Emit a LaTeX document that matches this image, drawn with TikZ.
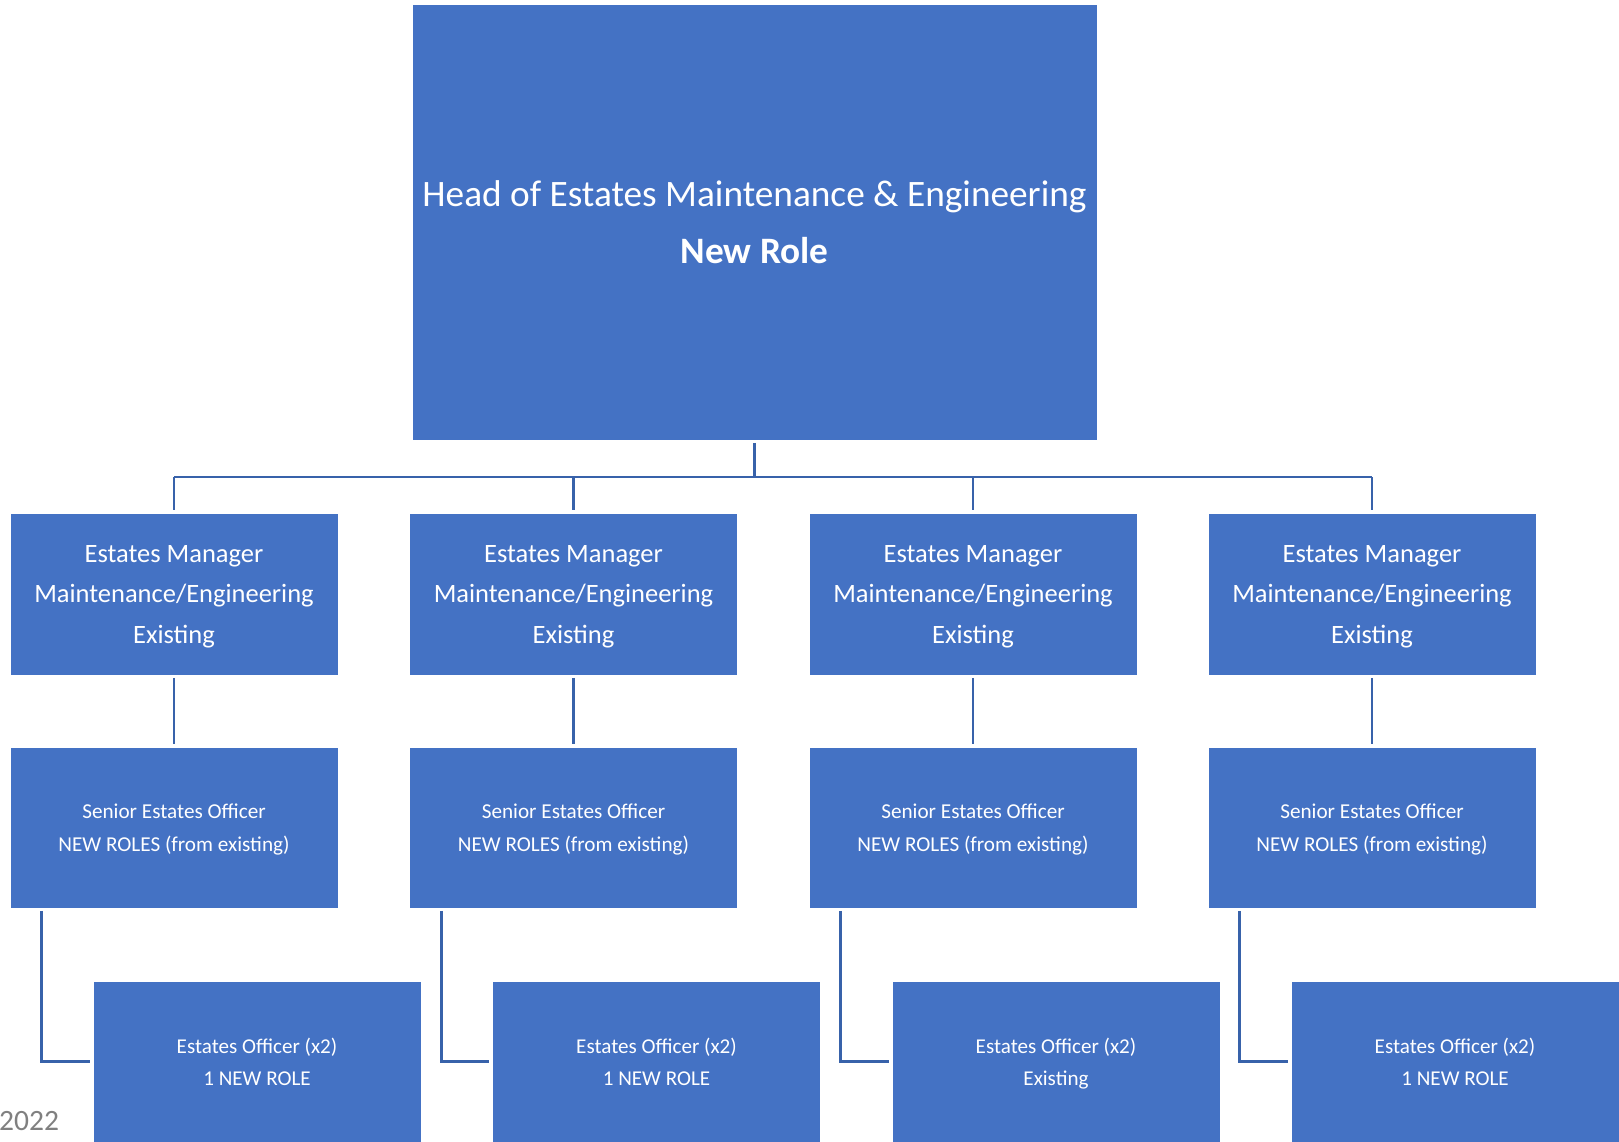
\documentclass[tikz,border=0pt]{standalone}
\usepackage{fontspec}
\setmainfont{Carlito}
\definecolor{boxblue}{HTML}{4472C4}
\definecolor{linkblue}{HTML}{3862AA}
\definecolor{datgray}{HTML}{808080}
\tikzset{
  orgbox/.style={rectangle, fill=boxblue, draw=white, line width=0.8pt, inner sep=0pt,
    text=white, align=center, minimum width=328pt},
  headbox/.style={orgbox, minimum width=685pt, minimum height=436pt,
    font={\fontsize{37.3}{57}\selectfont}},
  mgrbox/.style={orgbox, minimum height=162pt, font={\fontsize{26.5}{40.5}\selectfont}},
  seobox/.style={orgbox, minimum height=161pt, font={\fontsize{21.2}{33}\selectfont}},
  offbox/.style={orgbox, minimum height=161pt, font={\fontsize{21.1}{32.3}\selectfont}},
  conn/.style={draw=linkblue, line width=2.8pt, shorten <=2.5pt, shorten >=2.5pt}
}
\begin{document}
\begin{tikzpicture}[x=1pt,y=-1pt]
\useasboundingbox (0,0) rectangle (1619,1142);
\node[headbox] (top) at (754.5,222) {Head of Estates Maintenance \& Engineering\\\textbf{New Role}};
\foreach \i/\x/\t in {1/174/1 NEW ROLE, 2/573.5/1 NEW ROLE, 3/973/Existing, 4/1372/1 NEW ROLE}{
  \node[mgrbox] (m\i) at (\x,594) {Estates Manager\\Maintenance/Engineering\\\smash{Existing}};
  \node[seobox] (s\i) at (\x,827.5) {Senior Estates Officer\\\smash{NEW ROLES (from existing)}};
  \node[offbox] (o\i) at (\x+83,1061.5) {Estates Officer (x2)\\\smash{\t}};
}
\coordinate (bus) at (754.5,477);
\draw[conn, shorten >=0pt] (top.south) -- (bus);
\draw[draw=linkblue, line width=2.8pt] (m1.north |- bus) -- (m4.north |- bus);
\foreach \i in {1,2,3,4}{
  \draw[conn, shorten <=0pt] (m\i.north |- bus) -- (m\i.north);
  \draw[conn] (m\i.south) -- (s\i.north);
  \coordinate (c\i) at ([xshift=32pt]s\i.south west);
  \draw[conn, shorten >=3pt] (c\i) |- (o\i.west);
}
\node[anchor=base west, text=datgray, inner sep=0pt, font={\fontsize{29.5}{34}\selectfont}] (yr) at (-1,1130) {2022};
\end{tikzpicture}
\end{document}
